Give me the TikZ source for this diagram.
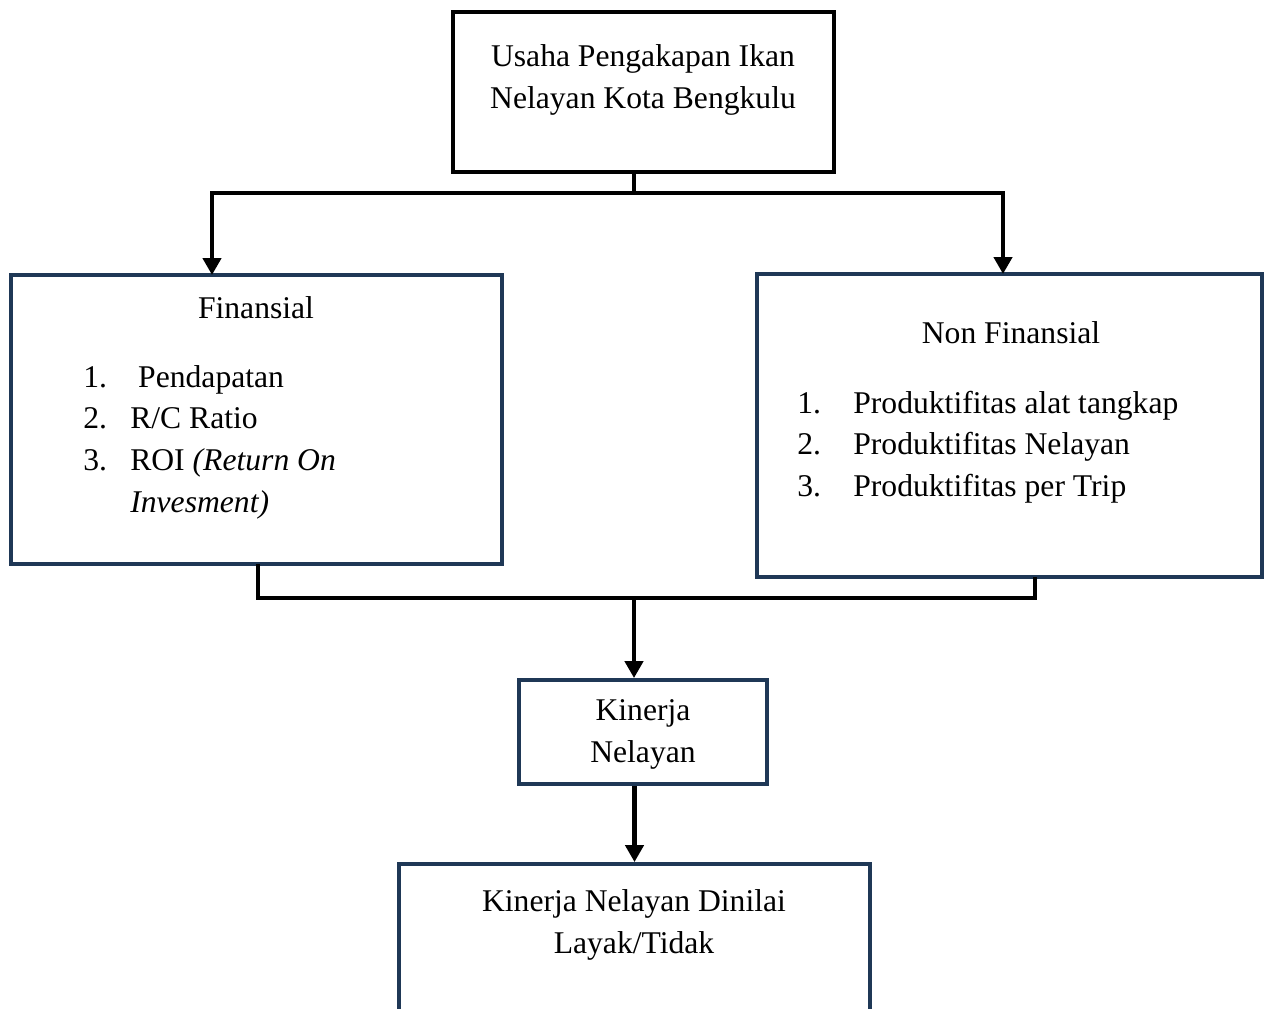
\documentclass[tikz,border=0pt]{standalone}
\usepackage{fontspec}
\setmainfont{Liberation Serif}
\usetikzlibrary{arrows.meta,positioning,fit}
\definecolor{navy}{HTML}{1F3856}
\tikzset{box/.style={draw=navy,line width=2.2pt,inner sep=0pt},topbox/.style={box,draw=black},txt/.style={font=\fontsize{18}{23.8}\selectfont,inner sep=0pt,align=center,anchor=base},lst/.style={txt,align=left,anchor=base west},conn/.style={line width=2.7pt,draw=black},arr/.style={conn,-{Triangle[length=3.4mm,width=3.6mm]}}}
\begin{document}
\begin{tikzpicture}[x=0.02cm,y=-0.02cm]
\clip (0,0) rectangle (1266,1008);
\node[topbox,fit={(453,12) (834,172)}] (usaha) {};
\node[txt] (usahatxt) at (643,108) {Usaha Pengakapan Ikan\\Nelayan Kota Bengkulu};
\node[box,fit={(11,275) (502,564)}] (fin) {};
\node[txt] (fintxt) at (256,318) {Finansial};
\node[lst] (finlist) at (83,387) {\begin{tabular}[t]{@{}p{0.94cm}@{}l@{}}1. & \ Pendapatan\\2. & R/C Ratio\\3. & ROI \textit{(Return On}\\ & \textit{Invesment)}\end{tabular}};
\node[box,fit={(757,274) (1262,577)}] (non) {};
\node[txt] (nontxt) at (1011,343) {Non Finansial};
\node[lst] (nonlist) at (797,413) {\begin{tabular}[t]{@{}p{1.12cm}@{}l@{}}1. & Produktifitas alat tangkap\\2. & Produktifitas Nelayan\\3. & Produktifitas per Trip\end{tabular}};
\node[box,fit={(519,680) (767,784)}] (kinerja) {};
\node[txt] (kinerjatxt) at (643,762) {Kinerja\\Nelayan};
\node[box,fit={(399,864) (870,1030)}] (nilai) {};
\node[txt] (nilaitxt) at (634,953) {Kinerja Nelayan Dinilai\\Layak/Tidak};
% cabang atas
\coordinate (split) at (634,193);
\coordinate (finin) at (212,275);
\coordinate (nonin) at (1003,274);
\draw[conn] (usaha.south -| split) -- (split);
\draw[arr] (split) -| (finin);
\draw[arr] (split) -| (nonin);
% gabung bawah
\coordinate (finout) at (258,564);
\coordinate (nonout) at (1035,577);
\coordinate (join) at (634,598);
\draw[conn] (finout) |- (join) -| (nonout);
\draw[arr] (join) -- (kinerja.north -| join);
\draw[arr] (kinerja.south -| nilai.north) -- (nilai.north);
\end{tikzpicture}
\end{document}
